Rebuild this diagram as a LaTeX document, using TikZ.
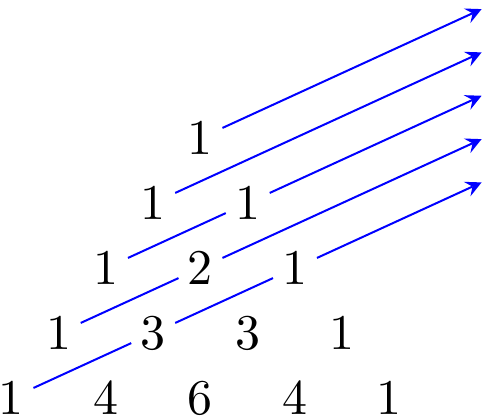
\documentclass[tikz,border=0pt]{standalone}
\usepackage{tikz}

\begin{document}
\begin{tikzpicture}[
    x=0.3323cm, y=0.4572cm,
    >=stealth,
    num/.style={inner sep=1.7pt},
    arrow/.style={->, blue}
]
\useasboundingbox (-4.243,-4.292) rectangle (6.085,2.123);

% triangle rows
\node[num] (n00) at (0,0) {1};

\node[num] (n10) at (-1,-1) {1};
\node[num] (n11) at (1,-1) {1};

\node[num] (n20) at (-2,-2) {1};
\node[num] (n21) at (0,-2) {2};
\node[num] (n22) at (2,-2) {1};

\node[num] (n30) at (-3,-3) {1};
\node[num] (n31) at (-1,-3) {3};
\node[num] (n32) at (1,-3) {3};
\node[num] (n33) at (3,-3) {1};

\node[num] (n40) at (-4,-4) {1};
\node[num] (n41) at (-2,-4) {4};
\node[num] (n42) at (0,-4) {6};
\node[num] (n43) at (2,-4) {4};
\node[num] (n44) at (4,-4) {1};

% arrow ends
\coordinate (e0) at (5.95,1.983);
\coordinate (e1) at (5.95,1.317);
\coordinate (e2) at (5.95,0.650);
\coordinate (e3) at (5.95,-0.017);
\coordinate (e4) at (5.95,-0.683);

% shallow diagonals
\draw[arrow] (n00) -- (e0);
\draw[arrow] (n10) -- (e1);
\draw[arrow] (n20) -- (n11) -- (e2);
\draw[arrow] (n30) -- (n21) -- (e3);
\draw[arrow] (n40) -- (n31) -- (n22) -- (e4);

\end{tikzpicture}
\end{document}
